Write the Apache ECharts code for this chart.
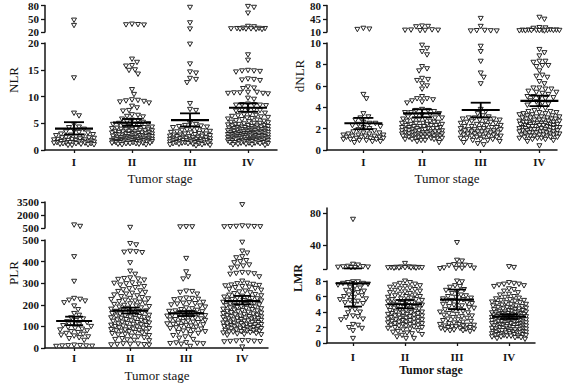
<!DOCTYPE html>
<html><head><meta charset="utf-8">
<script src="https://cdn.jsdelivr.net/npm/echarts@6/dist/echarts.min.js"></script>
<style>html,body{margin:0;padding:0;background:#fff}#c{width:567px;height:383px}</style>
</head><body><div id="c"></div>
<script>
// ---------------- DATA ----------------
const categories = ['I', 'II', 'III', 'IV'];

// NLR by tumor stage
const nlrI = [47, 35, 13.5, 6.9, 6.4, 4.8, 4.3, 4.2, 3.9, 3.6, 3.4, 3.3, 3.2, 3.0, 2.9, 2.8, 2.7, 2.6, 2.5, 2.4, 2.3, 2.3, 2.2, 2.1, 2.0, 2.0, 1.9, 1.9, 1.8, 1.8, 1.7, 1.7, 1.6, 1.6, 1.5, 1.5, 1.5, 1.4, 1.4, 1.4, 1.3, 1.3, 1.3, 1.2, 1.2, 1.2, 1.1, 1.1, 1.0, 1.0, 0.9, 0.9];
const nlrII = [38, 37, 36.5, 36, 17.0, 16.4, 15.8, 15.7, 15.0, 14.9, 14.2, 11.3, 10.4, 9.4, 9.3, 9.2, 9.1, 9.0, 8.8, 8.2, 7.9, 7.4, 7.3, 6.6, 6.5, 6.3, 6.2, 5.8, 5.6, 5.5, 5.3, 5.2, 5.0, 4.9, 4.8, 4.7, 4.6, 4.5, 4.4, 4.3, 4.2, 4.1, 4.0, 4.0, 3.9, 3.9, 3.8, 3.8, 3.7, 3.6, 3.6, 3.5, 3.5, 3.4, 3.4, 3.3, 3.3, 3.2, 3.2, 3.1, 3.1, 3.0, 3.0, 3.0, 2.9, 2.9, 2.8, 2.8, 2.8, 2.7, 2.7, 2.6, 2.6, 2.6, 2.5, 2.5, 2.5, 2.4, 2.4, 2.4, 2.3, 2.3, 2.3, 2.2, 2.2, 2.2, 2.1, 2.1, 2.1, 2.0, 2.0, 2.0, 2.0, 1.9, 1.9, 1.9, 1.9, 1.8, 1.8, 1.8, 1.8, 1.7, 1.7, 1.7, 1.7, 1.6, 1.6, 1.6, 1.6, 1.5, 1.5, 1.5, 1.5, 1.4, 1.4, 1.4, 1.3, 1.3, 1.3, 1.2, 1.2, 1.2, 1.1, 1.1, 1.0, 1.0];
const nlrIII = [76, 41, 27, 19.8, 16.1, 14.6, 14.4, 13.4, 13.2, 12.6, 8.7, 7.6, 7.4, 5.0, 4.8, 4.6, 4.5, 4.4, 4.3, 4.2, 4.1, 3.9, 3.8, 3.7, 3.6, 3.5, 3.4, 3.3, 3.2, 3.1, 3.0, 3.0, 2.9, 2.8, 2.8, 2.7, 2.6, 2.6, 2.5, 2.5, 2.4, 2.4, 2.3, 2.3, 2.2, 2.2, 2.1, 2.1, 2.0, 2.0, 2.0, 1.9, 1.9, 1.8, 1.8, 1.8, 1.7, 1.7, 1.7, 1.6, 1.6, 1.6, 1.5, 1.5, 1.5, 1.4, 1.4, 1.4, 1.3, 1.3, 1.3, 1.2, 1.2, 1.2, 1.1, 1.1, 1.0, 1.0, 0.9, 0.8];
const nlrIV = [78, 76, 63, 33, 32, 29, 28.5, 28, 28, 27.5, 27.5, 27, 27, 26.5, 26, 17.8, 16.8, 14.9, 14.8, 14.8, 14.7, 14.6, 13.3, 13.2, 13.1, 13.0, 11.8, 11.6, 11.5, 10.8, 10.8, 10.7, 10.7, 10.6, 10.6, 10.5, 9.7, 9.5, 8.6, 8.5, 8.5, 8.4, 8.4, 8.3, 7.6, 7.5, 7.5, 7.4, 7.3, 6.9, 6.7, 6.6, 6.5, 6.4, 6.3, 6.2, 6.1, 6.0, 5.9, 5.8, 5.7, 5.6, 5.5, 5.4, 5.3, 5.2, 5.1, 5.0, 5.0, 4.9, 4.8, 4.8, 4.7, 4.6, 4.6, 4.5, 4.5, 4.4, 4.4, 4.3, 4.3, 4.2, 4.2, 4.1, 4.1, 4.0, 4.0, 4.0, 3.9, 3.9, 3.9, 3.8, 3.8, 3.8, 3.7, 3.7, 3.7, 3.6, 3.6, 3.6, 3.5, 3.5, 3.5, 3.4, 3.4, 3.4, 3.3, 3.3, 3.3, 3.2, 3.2, 3.2, 3.1, 3.1, 3.1, 3.0, 3.0, 3.0, 3.0, 2.9, 2.9, 2.9, 2.8, 2.8, 2.8, 2.8, 2.7, 2.7, 2.7, 2.6, 2.6, 2.6, 2.6, 2.5, 2.5, 2.5, 2.4, 2.4, 2.4, 2.4, 2.3, 2.3, 2.3, 2.2, 2.2, 2.2, 2.2, 2.1, 2.1, 2.1, 2.0, 2.0, 2.0, 2.0, 1.9, 1.9, 1.9, 1.8, 1.8, 1.8, 1.8, 1.7, 1.7, 1.7, 1.6, 1.6, 1.6, 1.5, 1.5, 1.5, 1.4, 1.4, 1.4, 1.3, 1.3, 1.3, 1.2, 1.2, 1.1, 1.1, 1.0, 1.0, 0.9];
const nlrMean = [4.0, 5.1, 5.6, 7.9];
const nlrLow = [2.9, 4.5, 4.4, 7.15];
const nlrHigh = [5.2, 5.8, 6.85, 8.7];
const nlrLowerTicks = [0, 5, 10, 15, 20];
const nlrUpperTicks = [20, 50, 80];

// dNLR by tumor stage
const dnlrI = [20, 18, 17, 5.2, 4.8, 3.4, 3.1, 3.0, 2.8, 2.6, 2.5, 2.5, 2.4, 2.3, 2.2, 2.1, 2.0, 1.9, 1.8, 1.7, 1.6, 1.6, 1.5, 1.5, 1.4, 1.4, 1.4, 1.3, 1.3, 1.3, 1.2, 1.2, 1.2, 1.1, 1.1, 1.1, 1.0, 1.0, 1.0, 0.9, 0.9, 0.8, 0.8, 0.7];
const dnlrII = [26, 25, 24, 16, 15.5, 15, 15, 14.5, 14, 9.8, 9.5, 9.2, 8.9, 7.8, 7.6, 7.4, 6.7, 6.6, 6.5, 6.2, 6.0, 5.7, 5.0, 4.8, 4.8, 4.7, 4.6, 4.5, 4.4, 3.8, 3.7, 3.7, 3.6, 3.5, 3.5, 3.4, 3.3, 3.3, 3.2, 3.1, 3.0, 3.0, 2.9, 2.9, 2.8, 2.8, 2.7, 2.7, 2.6, 2.6, 2.5, 2.5, 2.5, 2.4, 2.4, 2.4, 2.3, 2.3, 2.3, 2.2, 2.2, 2.2, 2.1, 2.1, 2.1, 2.0, 2.0, 2.0, 2.0, 1.9, 1.9, 1.9, 1.9, 1.8, 1.8, 1.8, 1.8, 1.7, 1.7, 1.7, 1.7, 1.6, 1.6, 1.6, 1.6, 1.5, 1.5, 1.5, 1.5, 1.5, 1.4, 1.4, 1.4, 1.4, 1.4, 1.3, 1.3, 1.3, 1.3, 1.3, 1.2, 1.2, 1.2, 1.2, 1.1, 1.1, 1.1, 1.1, 1.0, 1.0, 1.0, 0.9, 0.9, 0.8, 0.7];
const dnlrIII = [46, 25, 14.5, 14, 13.5, 13, 13, 9.7, 9.2, 8.3, 7.2, 6.8, 6.2, 3.8, 3.6, 3.4, 3.2, 3.1, 3.0, 3.0, 2.9, 2.9, 2.8, 2.8, 2.7, 2.7, 2.6, 2.6, 2.5, 2.5, 2.4, 2.4, 2.3, 2.3, 2.2, 2.2, 2.1, 2.1, 2.0, 2.0, 2.0, 1.9, 1.9, 1.9, 1.8, 1.8, 1.8, 1.7, 1.7, 1.7, 1.6, 1.6, 1.6, 1.5, 1.5, 1.5, 1.4, 1.4, 1.4, 1.3, 1.3, 1.3, 1.2, 1.2, 1.2, 1.1, 1.1, 1.0, 1.0, 0.9, 0.9, 0.8, 0.7, 0.6, 0.5];
const dnlrIV = [49, 44, 22, 21, 20, 16, 15.5, 15.5, 15, 15, 15, 14.5, 14.5, 14.5, 14, 14, 13.5, 13.5, 13, 9.4, 9.1, 8.8, 8.3, 8.3, 8.2, 7.9, 7.9, 7.8, 7.4, 7.0, 6.9, 6.8, 6.4, 6.2, 5.8, 5.8, 5.7, 5.7, 5.5, 5.4, 5.4, 5.3, 5.2, 5.0, 5.0, 4.9, 4.9, 4.8, 4.6, 4.5, 4.4, 4.3, 4.2, 4.0, 3.9, 3.7, 3.6, 3.6, 3.5, 3.5, 3.4, 3.4, 3.3, 3.3, 3.2, 3.2, 3.1, 3.1, 3.1, 3.0, 3.0, 3.0, 2.9, 2.9, 2.9, 2.8, 2.8, 2.8, 2.7, 2.7, 2.7, 2.6, 2.6, 2.6, 2.6, 2.5, 2.5, 2.5, 2.5, 2.4, 2.4, 2.4, 2.4, 2.3, 2.3, 2.3, 2.3, 2.2, 2.2, 2.2, 2.2, 2.1, 2.1, 2.1, 2.1, 2.0, 2.0, 2.0, 2.0, 1.9, 1.9, 1.9, 1.9, 1.8, 1.8, 1.8, 1.8, 1.7, 1.7, 1.7, 1.7, 1.6, 1.6, 1.6, 1.6, 1.5, 1.5, 1.5, 1.5, 1.4, 1.4, 1.4, 1.4, 1.3, 1.3, 1.3, 1.3, 1.2, 1.2, 1.2, 1.1, 1.1, 1.1, 1.0, 1.0, 0.9, 0.8, 0.4];
const dnlrMean = [2.5, 3.43, 3.74, 4.6];
const dnlrLow = [1.95, 3.06, 3.06, 4.1];
const dnlrHigh = [3.0, 3.8, 4.42, 5.08];
const dnlrLowerTicks = [0, 2, 4, 6, 8, 10];
const dnlrUpperTicks = [10, 45, 80];

// PLR by tumor stage
const plrI = [860, 700, 423, 309, 230, 226, 222, 218, 210, 195, 178, 160, 152, 140, 135, 128, 122, 118, 112, 108, 104, 100, 96, 92, 88, 84, 80, 76, 72, 68, 64, 60, 56, 52, 48, 44, 36, 14, 12, 11, 10, 10, 9, 8];
const plrII = [580, 484, 478, 448, 446, 444, 442, 395, 356, 342, 325, 322, 320, 318, 315, 302, 300, 298, 296, 292, 285, 280, 275, 270, 265, 262, 258, 254, 250, 246, 242, 238, 234, 230, 228, 225, 222, 218, 215, 212, 208, 205, 202, 198, 195, 192, 190, 186, 184, 180, 178, 175, 172, 170, 168, 165, 162, 160, 158, 155, 152, 150, 148, 146, 144, 142, 140, 138, 136, 134, 132, 130, 128, 126, 124, 122, 120, 118, 116, 114, 112, 110, 108, 106, 104, 102, 100, 98, 96, 94, 92, 90, 88, 86, 84, 82, 80, 78, 76, 74, 72, 70, 67, 64, 61, 58, 55, 52, 48, 44, 40, 38, 36, 34, 20, 19, 18, 17, 16, 15, 14];
const plrIII = [660, 650, 640, 415, 353, 330, 320, 264, 262, 258, 250, 232, 230, 228, 226, 224, 212, 210, 208, 206, 204, 200, 195, 190, 186, 182, 178, 175, 172, 170, 168, 165, 162, 160, 158, 155, 152, 150, 148, 145, 142, 140, 138, 135, 132, 130, 128, 125, 122, 120, 118, 115, 112, 110, 108, 105, 102, 100, 97, 94, 91, 88, 85, 82, 79, 76, 72, 68, 62, 58, 52, 46, 40, 25, 24, 22, 21, 20, 18, 8];
const plrIV = [3200, 760, 720, 700, 680, 670, 660, 650, 490, 449, 440, 423, 418, 405, 400, 395, 385, 380, 375, 370, 350, 348, 346, 344, 342, 330, 310, 300, 298, 295, 292, 290, 288, 285, 282, 280, 276, 272, 268, 264, 260, 256, 252, 248, 245, 242, 240, 236, 234, 232, 230, 228, 225, 222, 220, 218, 215, 212, 210, 208, 205, 202, 200, 198, 196, 194, 192, 190, 188, 186, 184, 182, 180, 178, 176, 174, 172, 170, 168, 166, 164, 162, 160, 158, 156, 154, 152, 150, 148, 146, 145, 144, 142, 140, 139, 138, 136, 135, 134, 132, 130, 129, 128, 126, 125, 124, 122, 120, 119, 118, 116, 115, 114, 112, 110, 109, 108, 106, 105, 104, 102, 100, 99, 98, 96, 95, 94, 92, 90, 89, 88, 86, 85, 84, 82, 80, 79, 78, 76, 75, 74, 72, 70, 68, 66, 64, 62, 60, 35, 34, 33, 32, 31, 30, 29, 5];
const plrMean = [125, 173, 160, 217];
const plrLow = [106, 160, 148, 202];
const plrHigh = [145, 187, 171, 241];
const plrLowerTicks = [0, 100, 200, 300, 400, 500];
const plrUpperTicks = [500, 2000, 3500];

// LMR by tumor stage
const lmrI = [72, 16, 15, 13.5, 13, 12.8, 12.5, 12.3, 12, 11.8, 7.9, 7.9, 7.8, 7.7, 7.7, 7.6, 7.5, 7.3, 7.2, 7.1, 6.8, 6.7, 6.6, 6.5, 6.2, 6.1, 6.0, 5.9, 5.7, 5.6, 5.5, 5.4, 5.2, 5.1, 5.0, 4.5, 4.3, 4.0, 3.9, 3.5, 3.4, 3.3, 3.1, 3.0, 2.4, 2.3, 2.0, 1.9, 1.6, 0.6];
const lmrII = [17, 12.8, 12.6, 12.4, 12.2, 12, 11.9, 11.8, 11.7, 11.6, 11.5, 11.4, 11.3, 11.2, 8.0, 7.8, 7.7, 7.6, 7.5, 7.4, 7.3, 7.2, 7.1, 7.0, 6.9, 6.8, 6.7, 6.6, 6.5, 6.4, 6.3, 6.2, 6.1, 6.0, 6.0, 5.9, 5.8, 5.7, 5.6, 5.6, 5.5, 5.4, 5.3, 5.3, 5.2, 5.1, 5.0, 5.0, 4.9, 4.8, 4.8, 4.7, 4.6, 4.6, 4.5, 4.4, 4.4, 4.3, 4.2, 4.2, 4.1, 4.0, 4.0, 3.9, 3.9, 3.8, 3.8, 3.7, 3.7, 3.6, 3.6, 3.5, 3.5, 3.4, 3.4, 3.3, 3.3, 3.2, 3.2, 3.1, 3.1, 3.0, 3.0, 2.9, 2.9, 2.8, 2.8, 2.7, 2.7, 2.6, 2.6, 2.5, 2.5, 2.4, 2.4, 2.3, 2.3, 2.2, 2.2, 2.1, 2.0, 2.0, 1.9, 1.8, 1.7, 1.6, 1.5, 1.4, 1.3, 1.2, 1.1, 1.0, 0.8, 0.6, 0.6];
const lmrIII = [43, 21, 20, 15.5, 15, 14.8, 14.5, 14.2, 11.5, 11.2, 11, 10.8, 10.6, 8.0, 7.9, 7.4, 7.3, 7.2, 6.9, 6.8, 6.6, 6.4, 6.2, 6.1, 6.0, 5.9, 5.8, 5.7, 5.6, 5.5, 5.4, 5.3, 5.2, 5.1, 5.0, 4.9, 4.8, 4.7, 4.6, 4.5, 4.4, 4.3, 4.2, 4.1, 4.0, 3.9, 3.8, 3.7, 3.6, 3.5, 3.4, 3.3, 3.2, 3.1, 3.0, 2.9, 2.8, 2.7, 2.6, 2.5, 2.4, 2.4, 2.3, 2.3, 2.2, 2.2, 2.1, 2.1, 2.0, 2.0, 1.9, 1.9, 1.8, 1.8, 1.7, 1.7, 1.6, 1.6, 1.5];
const lmrIV = [13, 12, 7.8, 7.7, 7.6, 7.6, 7.5, 7.4, 7.3, 7.0, 6.9, 6.7, 6.5, 6.3, 6.2, 6.0, 5.9, 5.8, 5.7, 5.6, 5.5, 5.5, 5.4, 5.3, 5.2, 5.2, 5.1, 5.0, 5.0, 4.9, 4.8, 4.8, 4.7, 4.6, 4.6, 4.5, 4.5, 4.4, 4.4, 4.3, 4.3, 4.2, 4.2, 4.1, 4.1, 4.0, 4.0, 4.0, 3.9, 3.9, 3.9, 3.8, 3.8, 3.8, 3.7, 3.7, 3.7, 3.6, 3.6, 3.6, 3.5, 3.5, 3.5, 3.4, 3.4, 3.4, 3.3, 3.3, 3.3, 3.2, 3.2, 3.2, 3.1, 3.1, 3.1, 3.0, 3.0, 3.0, 2.9, 2.9, 2.9, 2.8, 2.8, 2.8, 2.7, 2.7, 2.7, 2.6, 2.6, 2.6, 2.5, 2.5, 2.5, 2.4, 2.4, 2.4, 2.3, 2.3, 2.3, 2.2, 2.2, 2.2, 2.1, 2.1, 2.1, 2.0, 2.0, 2.0, 1.9, 1.9, 1.9, 1.8, 1.8, 1.8, 1.7, 1.7, 1.7, 1.6, 1.6, 1.6, 1.5, 1.5, 1.5, 1.4, 1.4, 1.4, 1.3, 1.3, 1.3, 1.2, 1.2, 1.2, 1.1, 1.1, 1.1, 1.0, 1.0, 1.0, 0.9, 0.9, 0.9, 0.8, 0.8, 0.7, 0.7, 0.6, 0.5];
const lmrMean = [7.7, 5.0, 5.6, 3.4];
const lmrLow = [4.7, 4.47, 4.35, 3.1];
const lmrHigh = [10.7, 5.55, 6.9, 3.7];
const lmrLowerTicks = [0, 2, 4, 6, 8];
const lmrUpperTicks = [10, 40, 80];
const lmrUpperLabels = [40, 80];

// ---------------- LAYOUT ----------------
const FONT = '"Liberation Serif", "Times New Roman", Times, serif';
const INK = '#141414';

const panels = [
  { groups: [nlrI, nlrII, nlrIII, nlrIV], mean: nlrMean, low: nlrLow, high: nlrHigh,
    upper: { min: 20, max: 80, ticks: nlrUpperTicks, labels: nlrUpperTicks, top: 5, height: 27 },
    lower: { min: 0, max: 20, ticks: nlrLowerTicks, labels: nlrLowerTicks, top: 43, height: 107 },
    left: 45, width: 232, xmin: -0.5, xmax: 3.5, xLabelMargin: 6,
    D: 5.2, W: 20, hwMean: 19, hwWhisk: 10 },
  { groups: [dnlrI, dnlrII, dnlrIII, dnlrIV], mean: dnlrMean, low: dnlrLow, high: dnlrHigh,
    upper: { min: 10, max: 80, ticks: dnlrUpperTicks, labels: dnlrUpperTicks, top: 5, height: 27 },
    lower: { min: 0, max: 10, ticks: dnlrLowerTicks, labels: dnlrLowerTicks, top: 43, height: 107 },
    left: 327, width: 230, xmin: -0.62, xmax: 3.3, xLabelMargin: 6,
    D: 5.2, W: 20, hwMean: 19, hwWhisk: 10 },
  { groups: [plrI, plrII, plrIII, plrIV], mean: plrMean, low: plrLow, high: plrHigh,
    upper: { min: 500, max: 3500, ticks: plrUpperTicks, labels: plrUpperTicks, top: 202, height: 26 },
    lower: { min: 0, max: 500, ticks: plrLowerTicks, labels: plrLowerTicks, top: 240, height: 108 },
    left: 45, width: 223, xmin: -0.52, xmax: 3.46, xLabelMargin: 4,
    D: 5.2, W: 19, hwMean: 18, hwWhisk: 9 },
  { groups: [lmrI, lmrII, lmrIII, lmrIV], mean: lmrMean, low: lmrLow, high: lmrHigh,
    upper: { min: 10, max: 86, ticks: lmrUpperTicks, labels: lmrUpperLabels, top: 208, height: 61 },
    lower: { min: 0, max: 8, ticks: lmrLowerTicks, labels: lmrLowerTicks, top: 281, height: 62 },
    left: 327, width: 208, xmin: -0.5, xmax: 3.5, xLabelMargin: 8,
    D: 5.0, W: 17, hwMean: 17, hwWhisk: 9 }
];

const titles = [
  { text: 'NLR', x: 13, y: 80, rot: true, bold: false, size: 13 },
  { text: 'dNLR', x: 299, y: 76, rot: true, bold: false, size: 13 },
  { text: 'PLR', x: 13, y: 273, rot: true, bold: false, size: 13 },
  { text: 'LMR', x: 298, y: 278, rot: true, bold: true, size: 12 },
  { text: 'Tumor stage', x: 160, y: 178, rot: false, bold: false, size: 13 },
  { text: 'Tumor stage', x: 447, y: 178, rot: false, bold: false, size: 13 },
  { text: 'Tumor stage', x: 157, y: 375, rot: false, bold: false, size: 13 },
  { text: 'Tumor stage', x: 431, y: 370, rot: false, bold: true, size: 12 }
];

// ---------------- BUILD ----------------
const chart = echarts.init(document.getElementById('c'), null, { renderer: 'svg', width: 567, height: 383 });

const grid = [], xAxis = [], yAxis = [];
panels.forEach(p => {
  ['upper', 'lower'].forEach(seg => {
    const s = p[seg];
    const gi = grid.length;
    s.gi = gi;
    const isLower = seg === 'lower';
    grid.push({ left: p.left, top: s.top, width: p.width, height: s.height });
    xAxis.push({
      gridIndex: gi, type: 'value', min: p.xmin, max: p.xmax, show: isLower,
      axisLine: { show: true, onZero: false, lineStyle: { color: INK, width: 1.5 } },
      axisTick: { show: true, length: 3, customValues: [0, 1, 2, 3], lineStyle: { color: INK, width: 1.3 } },
      axisLabel: { show: true, customValues: [0, 1, 2, 3], formatter: v => categories[Math.round(v)],
        margin: p.xLabelMargin, fontFamily: FONT, fontWeight: 'bold', fontSize: 11, color: INK },
      splitLine: { show: false }
    });
    yAxis.push({
      gridIndex: gi, type: 'value', min: s.min, max: s.max,
      axisLine: { show: true, onZero: false, lineStyle: { color: INK, width: 1.5 } },
      axisTick: { show: true, length: 4, customValues: s.ticks, lineStyle: { color: INK, width: 1.3 } },
      axisLabel: { show: true, customValues: s.labels, formatter: v => String(v), margin: 6, fontFamily: FONT,
        fontWeight: 'bold', fontSize: 11, color: INK },
      splitLine: { show: false }
    });
  });
});

const graphic = titles.map(t => ({
  type: 'text', x: t.x, y: t.y, rotation: t.rot ? Math.PI / 2 : 0,
  style: { text: t.text, fill: INK, fontFamily: FONT, fontSize: t.size,
    fontWeight: t.bold ? 'bold' : 'normal', textAlign: 'center', verticalAlign: 'middle' }
}));

chart.setOption({ animation: false, backgroundColor: '#fff', grid, xAxis, yAxis, graphic, series: [] });

// beeswarm-like horizontal spreading of points (layout only, based on pixel y from the axes)
function dodge(ys, D, W) {
  const order = ys.map((y, i) => i).sort((a, b) => ys[a] - ys[b]);
  const cands = [0];
  for (let k = 1; k <= W; k++) cands.push(k, -k);
  const placed = [], dx = new Array(ys.length);
  for (const i of order) {
    const y = ys[i];
    let best = 0, bestD = -1;
    for (const c of cands) {
      let m = Infinity;
      for (const q of placed) {
        const dy = q[1] - y;
        if (dy >= D || dy <= -D) continue;
        const d = Math.hypot(q[0] - c, dy);
        if (d < m) m = d;
      }
      if (m >= D) { best = c; bestD = m; break; }
      if (m > bestD) { bestD = m; best = c; }
    }
    dx[i] = best;
    placed.push([best, y]);
  }
  return dx;
}

function pointRender(params, api) {
  const p = api.coord([api.value(0), api.value(1)]);
  const x = p[0] + api.value(2), y = p[1];
  const w = 2.5;
  return {
    type: 'polygon',
    shape: { points: [[x - w, y - 2.0], [x + w, y - 2.0], [x, y + 2.4]] },
    style: { fill: '#fff', stroke: '#1a1a1a', lineWidth: 0.95 }
  };
}

function meanRenderFactory(seg, p) {
  return function (params, api) {
    const xi = api.value(0), m = api.value(1), lo = api.value(2), hi = api.value(3);
    const cx = api.coord([xi, seg.min])[0];
    const yOf = v => api.coord([xi, v])[1];
    const inR = v => v >= seg.min && v <= seg.max;
    const cl = v => Math.max(seg.min, Math.min(seg.max, v));
    const st = w => ({ stroke: '#000', lineWidth: w });
    const ch = [];
    const a = cl(lo), b = cl(hi);
    if (b > a) ch.push({ type: 'line', shape: { x1: cx, y1: yOf(a), x2: cx, y2: yOf(b) }, style: st(1.8) });
    if (inR(m)) ch.push({ type: 'line', shape: { x1: cx - p.hwMean, y1: yOf(m), x2: cx + p.hwMean, y2: yOf(m) }, style: st(2.2) });
    [lo, hi].forEach(v => {
      if (inR(v)) ch.push({ type: 'line', shape: { x1: cx - p.hwWhisk, y1: yOf(v), x2: cx + p.hwWhisk, y2: yOf(v) }, style: st(1.8) });
    });
    return { type: 'group', children: ch };
  };
}

const series = [];
panels.forEach(p => {
  const upData = [], lowData = [];
  p.groups.forEach((vals, ci) => {
    const ys = vals.map(v => {
      const seg = v > p.lower.max ? p.upper : p.lower;
      return chart.convertToPixel({ gridIndex: seg.gi }, [ci, v])[1];
    });
    const dx = dodge(ys, p.D, p.W);
    vals.forEach((v, k) => {
      (v > p.lower.max ? upData : lowData).push([ci, v, dx[k]]);
    });
  });
  const meanRows = categories.map((c, ci) => [ci, p.mean[ci], p.low[ci], p.high[ci]]);
  [['upper', upData], ['lower', lowData]].forEach(([segName, data]) => {
    const seg = p[segName];
    series.push({
      type: 'custom', xAxisIndex: seg.gi, yAxisIndex: seg.gi, clip: false, z: 2,
      renderItem: pointRender, data, encode: { x: 0, y: 1 }, silent: true
    });
    series.push({
      type: 'custom', xAxisIndex: seg.gi, yAxisIndex: seg.gi, clip: false, z: 5,
      renderItem: meanRenderFactory(seg, p), data: meanRows, encode: { x: 0, y: 1 }, silent: true
    });
  });
});

chart.setOption({ series });
</script>
</body></html>
